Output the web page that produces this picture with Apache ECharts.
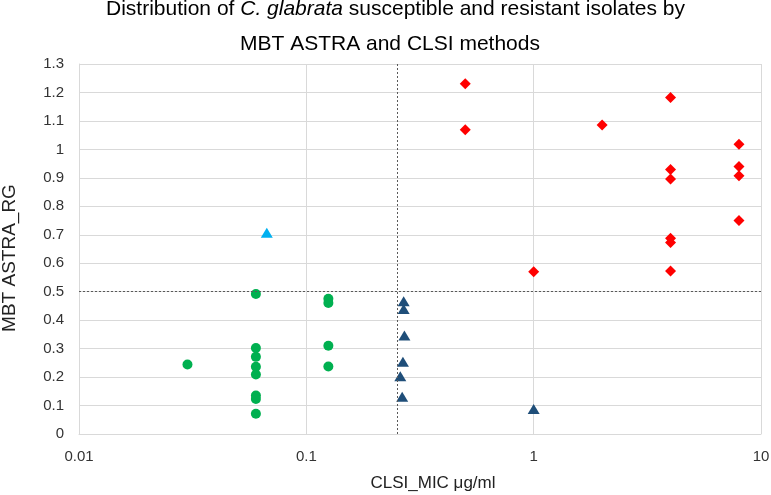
<!DOCTYPE html>
<html lang="en">

<head>
    <meta charset="UTF-8">
    <title>C. glabrata MBT ASTRA vs CLSI</title>
    <script src="https://cdn.jsdelivr.net/npm/echarts/dist/echarts.min.js"></script>
    <style>
        html, body { margin: 0; padding: 0; background: #fff; }
    </style>
</head>

<body>
    <div id="chart" style="width: 771px; height: 495px;"></div>
    <script>
        // MIC values (x, log scale) and RG values (y) per group
        const greenMic = [0.03, 0.06, 0.06, 0.06, 0.06, 0.06, 0.06, 0.06, 0.06, 0.125, 0.125, 0.125, 0.125];
        const greenRg = [0.244, 0.492, 0.302, 0.271, 0.236, 0.209, 0.135, 0.123, 0.071, 0.475, 0.460, 0.310, 0.237];

        const blueMic = [0.268, 0.268, 0.27, 0.266, 0.259, 0.264, 1];
        const blueRg = [0.466, 0.439, 0.346, 0.254, 0.203, 0.131, 0.088];

        const cyanMic = [0.067];
        const cyanRg = [0.707];

        const redMic = [0.5, 0.5, 2, 4, 4, 4, 4, 4, 4, 1, 8, 8, 8, 8];
        const redRg = [1.231, 1.069, 1.086, 1.182, 0.929, 0.896, 0.688, 0.673, 0.573, 0.570, 1.018, 0.940, 0.907, 0.750];

        // breakpoints (dotted lines)
        const micCutoff = 0.25;
        const rgCutoff = 0.5;

        const pairs = (xs, ys) => xs.map((x, i) => [x, ys[i]]);

        const chart = echarts.init(document.getElementById('chart'));
        const font = 'Liberation Sans, Arial, sans-serif';
        const titleStyle = {
            fontSize: 21,
            fontWeight: 'normal',
            color: '#000',
            fontFamily: font
        };

        chart.setOption({
            animation: false,
            textStyle: { fontFamily: font },
            // two title lines, the first one with the species name in italics
            title: [
                {
                    left: 106,
                    top: -1,
                    padding: 0,
                    text: '{n|Distribution of }{i|C. glabrata}{n| susceptible and resistant isolates by}',
                    textStyle: {
                        ...titleStyle,
                        rich: {
                            n: { ...titleStyle },
                            i: { ...titleStyle, fontStyle: 'italic' }
                        }
                    }
                },
                {
                    left: 240,
                    top: 34,
                    padding: 0,
                    text: 'MBT ASTRA and CLSI methods',
                    textStyle: titleStyle
                }
            ],
            grid: { left: 79, right: 10, top: 64, bottom: 61, outerBoundsMode: 'none', containLabel: false },
            xAxis: {
                type: 'log',
                logBase: 10,
                min: 0.01,
                max: 10,
                name: 'CLSI_MIC μg/ml',
                nameLocation: 'middle',
                nameGap: 41,
                nameTextStyle: { fontSize: 17, color: '#222', padding: [0, 0, 0, 26] },
                axisLine: { lineStyle: { color: '#d9d9d9' } },
                axisTick: { show: false },
                axisLabel: { fontSize: 15, color: '#333', margin: 15 },
                splitLine: { show: true, lineStyle: { color: '#d9d9d9' } },
                minorTick: { show: false }
            },
            yAxis: {
                type: 'value',
                min: 0,
                max: 1.3,
                interval: 0.1,
                name: 'MBT ASTRA_RG',
                nameLocation: 'middle',
                nameGap: 60,
                nameTextStyle: { fontSize: 19, color: '#222', padding: [0, 18, 0, 0] },
                axisLine: { show: true, lineStyle: { color: '#d9d9d9' } },
                axisTick: { show: false },
                axisLabel: { fontSize: 15, color: '#333', margin: 15 },
                splitLine: { lineStyle: { color: '#d9d9d9' } }
            },
            series: [
                {
                    type: 'scatter',
                    symbol: 'circle',
                    symbolSize: 10,
                    itemStyle: { color: '#00B050', opacity: 1 },
                    data: pairs(greenMic, greenRg),
                    markLine: {
                        silent: true,
                        symbol: 'none',
                        label: { show: false },
                        lineStyle: { color: '#595959', type: [2, 2], width: 1 },
                        data: [{ xAxis: micCutoff }, { yAxis: rgCutoff }]
                    }
                },
                {
                    type: 'scatter',
                    symbol: 'triangle',
                    symbolSize: [12, 10],
                    itemStyle: { color: '#1F4E79', opacity: 1 },
                    data: pairs(blueMic, blueRg)
                },
                {
                    type: 'scatter',
                    symbol: 'triangle',
                    symbolSize: [12, 10],
                    itemStyle: { color: '#00B0F0', opacity: 1 },
                    data: pairs(cyanMic, cyanRg)
                },
                {
                    type: 'scatter',
                    symbol: 'diamond',
                    symbolSize: [11, 11],
                    itemStyle: { color: '#FF0000', opacity: 1 },
                    data: pairs(redMic, redRg)
                }
            ]
        });
    </script>
</body>

</html>
